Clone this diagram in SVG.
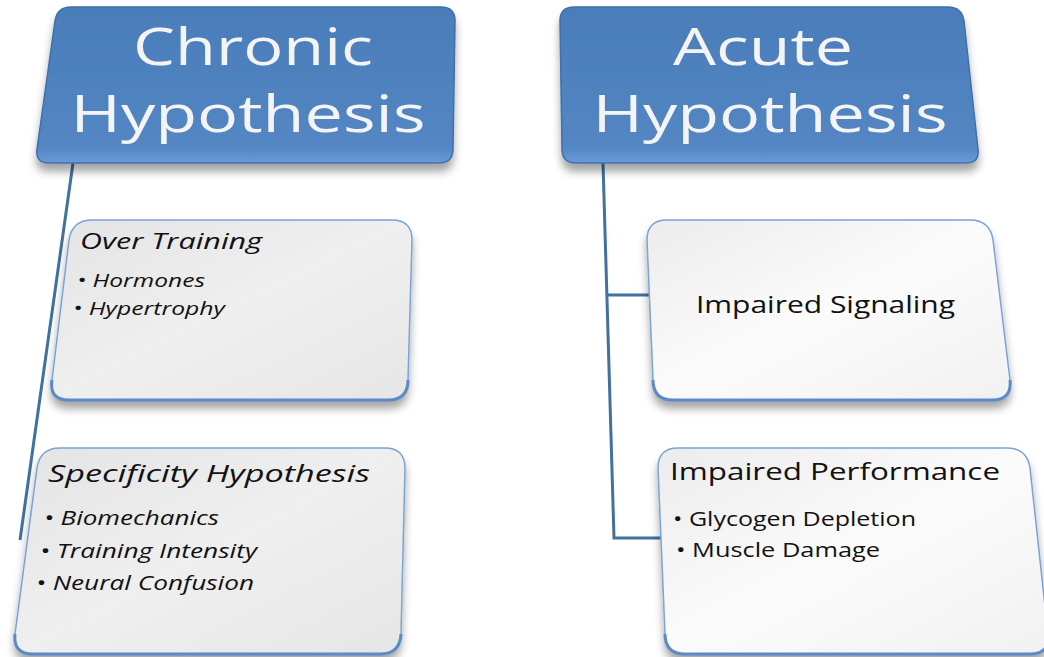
<svg xmlns="http://www.w3.org/2000/svg" width="1044" height="657" viewBox="0 0 1044 657">
<style>
.hdr{fill:url(#hg);stroke:#3f70ab;stroke-width:1.5;filter:url(#sh)}
.box{stroke:#7aa3d6;stroke-width:1.5;filter:url(#sh)}
.bl{fill:url(#gl)}
.br{fill:url(#gr)}
.edge{fill:none;stroke:#5a8bc8;stroke-width:3}
.ht{font-family:"Open Sans","DejaVu Sans",sans-serif;fill:#f4f4f4;font-size:52px;text-anchor:middle}
.t{font-family:"Open Sans","DejaVu Sans",sans-serif;fill:#111}
.it{font-style:italic}
.con{fill:none;stroke:#41719f;stroke-width:3}
</style>
<defs>
<linearGradient id="hg" x1="0" y1="0" x2="0" y2="1">
<stop offset="0" stop-color="#4a7dba"/>
<stop offset="0.9" stop-color="#5386c3"/>
<stop offset="1" stop-color="#6a9bd6"/>
</linearGradient>
<linearGradient id="gl" x1="0" y1="0" x2="1" y2="1">
<stop offset="0" stop-color="#e4e4e4"/>
<stop offset="0.5" stop-color="#efefef"/>
<stop offset="1" stop-color="#e6e6e6"/>
</linearGradient>
<linearGradient id="gr" x1="0" y1="0" x2="1" y2="1">
<stop offset="0" stop-color="#ececec"/>
<stop offset="0.5" stop-color="#fbfbfb"/>
<stop offset="1" stop-color="#f1f1f1"/>
</linearGradient>
<filter id="sh" x="-10%" y="-10%" width="120%" height="130%">
<feGaussianBlur in="SourceAlpha" stdDeviation="4"/>
<feOffset dx="0" dy="8" result="b"/>
<feFlood flood-color="#000" flood-opacity="0.35"/>
<feComposite in2="b" operator="in"/>
<feMerge><feMergeNode/><feMergeNode in="SourceGraphic"/></feMerge>
</filter>
</defs>
<rect width="1044" height="657" fill="#fff"/>

<g id="connectors">
<path class="con" d="M73,163 L20,540"/>
<path class="con" d="M603,163 L614,538 L664,538"/>
<path class="con" d="M608,295 L650,295"/>
</g>

<g id="chronic">
<path class="hdr" d="M71,7 L441,7 Q455,7 455,21 L453,149 Q453,163 439,163 L49,163 Q35,163 37,149 L55,21 Q57,7 71,7 Z"/>
<text class="ht" x="253" y="65" textLength="240" lengthAdjust="spacingAndGlyphs">Chronic</text>
<text class="ht" x="248" y="132" textLength="355" lengthAdjust="spacingAndGlyphs">Hypothesis</text>
</g>

<g id="acute">
<path class="hdr" d="M574,7 L948,7 Q962,7 964,21 L978,149 Q980,163 966,163 L576,163 Q562,163 562,149 L560,21 Q560,7 574,7 Z"/>
<text class="ht" x="763" y="65" textLength="180" lengthAdjust="spacingAndGlyphs">Acute</text>
<text class="ht" x="770" y="132" textLength="355" lengthAdjust="spacingAndGlyphs">Hypothesis</text>
</g>

<g id="over-training">
<path class="box bl" d="M92,220 L392,220 Q412,220 412,240 L408,380 Q408,400 388,400 L69,400 Q49,400 52,380 L69,240 Q72,220 92,220 Z"/>
<path class="edge" d="M408,380 Q408,400 388,400 L69,400 Q49,400 52,380"/>
<text class="t it" x="80" y="249" font-size="22" textLength="182" lengthAdjust="spacingAndGlyphs">Over Training</text>
<text class="t it" x="77" y="287" font-size="19" textLength="128" lengthAdjust="spacingAndGlyphs">• Hormones</text>
<text class="t it" x="73" y="315" font-size="19" textLength="152" lengthAdjust="spacingAndGlyphs">• Hypertrophy</text>
</g>

<g id="specificity">
<path class="box bl" d="M60,448 L385,448 Q405,448 405,468 L401,634 Q400,654 380,654 L33,654 Q13,654 15,634 L37,468 Q40,448 60,448 Z"/>
<path class="edge" d="M401,634 Q400,654 380,654 L33,654 Q13,654 15,634"/>
<text class="t it" x="48" y="482" font-size="23" textLength="322" lengthAdjust="spacingAndGlyphs">Specificity Hypothesis</text>
<text class="t it" x="44" y="525" font-size="20" textLength="175" lengthAdjust="spacingAndGlyphs">• Biomechanics</text>
<text class="t it" x="40" y="558" font-size="20" textLength="217" lengthAdjust="spacingAndGlyphs">• Training Intensity</text>
<text class="t it" x="36" y="590" font-size="20" textLength="218" lengthAdjust="spacingAndGlyphs">• Neural Confusion</text>
</g>

<g id="impaired-signaling">
<path class="box br" d="M667,220 L970,220 Q990,220 993,240 L1010,380 Q1012,400 992,400 L673,400 Q653,400 653,380 L647,240 Q647,220 667,220 Z"/>
<path class="edge" d="M1010,380 Q1012,400 992,400 L673,400 Q653,400 653,380"/>
<text class="t" x="696" y="313" font-size="23" textLength="259" lengthAdjust="spacingAndGlyphs">Impaired Signaling</text>
</g>

<g id="impaired-performance">
<path class="box br" d="M678,448 L1007,448 Q1027,448 1030,468 L1048,634 Q1050,654 1030,654 L685,654 Q665,654 665,634 L658,468 Q658,448 678,448 Z"/>
<path class="edge" d="M1048,634 Q1050,654 1030,654 L685,654 Q665,654 665,634"/>
<text class="t" x="670" y="480" font-size="24" textLength="330" lengthAdjust="spacingAndGlyphs">Impaired Performance</text>
<text class="t" x="673" y="526" font-size="20" textLength="243" lengthAdjust="spacingAndGlyphs">• Glycogen Depletion</text>
<text class="t" x="676" y="557" font-size="20" textLength="204" lengthAdjust="spacingAndGlyphs">• Muscle Damage</text>
</g>
</svg>
